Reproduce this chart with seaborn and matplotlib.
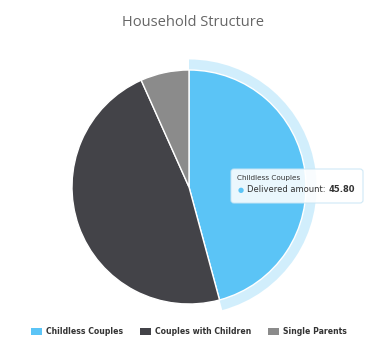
import matplotlib
matplotlib.use("Agg")
import matplotlib.pyplot as plt
import seaborn as sns
from matplotlib.patches import Patch, FancyBboxPatch

categories = ["Childless Couples", "Couples with Children", "Single Parents"]
values = [45.80, 47.50, 6.70]
colors = ["#5BC4F6", "#434348", "#8B8B8B"]
title = "Household Structure"
series_name = "Delivered amount"
hover_index = 0

sns.set_theme(style="white")
plt.rcParams["font.family"] = ["Open Sans", "DejaVu Sans"]

fig = plt.figure(figsize=(3.86, 3.47), dpi=100)
W, H = 386, 347
cx, cy, r = 189, 187, 117
ax = fig.add_axes([(cx - r) / W, (H - cy - r) / H, 2 * r / W, 2 * r / H])

# halo for hovered slice
halo_colors = [colors[i] if i == hover_index else "none" for i in range(len(values))]
halo, _ = ax.pie(values, colors=halo_colors, startangle=90, counterclock=False,
                 radius=1.09, wedgeprops=dict(width=0.1, linewidth=0, alpha=0.28))
wedges, _ = ax.pie(values, colors=colors, startangle=90, counterclock=False,
                   radius=1.0, wedgeprops=dict(edgecolor="white", linewidth=1))
for w in list(halo) + list(wedges):
    w.set_clip_on(False)
ax.set_xlim(-1, 1)
ax.set_ylim(-1, 1)
ax.set_aspect("equal")
ax.axis("off")

fig.text(0.5, 1 - 22 / H, title, ha="center", va="center", fontsize=10.5,
         color="#666666")

# tooltip box
def fx(px):
    return px / W

def fy(py):
    return 1 - py / H

box = FancyBboxPatch((fx(231), fy(203)), fx(363) - fx(231), fy(169) - fy(203),
                     boxstyle="round,pad=0,rounding_size=0.008",
                     transform=fig.transFigure, facecolor="white", alpha=0.88,
                     edgecolor="#C9E6F5", linewidth=0.8, zorder=5)
fig.add_artist(box)
fig.text(fx(237), fy(178), categories[hover_index], fontsize=5.2, color="#333333",
         ha="left", va="center", family=["DejaVu Sans"], zorder=6)
fig.text(fx(238), fy(190), "\u25cf", fontsize=5.0, color=colors[hover_index],
         ha="left", va="center", family=["DejaVu Sans"], zorder=6)
lab = fig.text(fx(247), fy(190), f"{series_name}: ", fontsize=6.0, color="#333333",
               ha="left", va="center", family=["DejaVu Sans"], zorder=6)
fig.canvas.draw()
ext = lab.get_window_extent(fig.canvas.get_renderer())
fig.text(ext.x1 / fig.bbox.width, fy(190), f"{values[hover_index]:.2f}", fontsize=6.0,
         color="#333333", ha="left", va="center", fontweight="bold",
         family=["DejaVu Sans"], zorder=6)

handles = [Patch(facecolor=c, edgecolor="none") for c in colors]
leg = fig.legend(handles, categories, loc="center", bbox_to_anchor=(fx(189), fy(332)),
                 ncol=3, frameon=False, handlelength=1.4,
                 handleheight=0.95, handletextpad=0.5, columnspacing=2.2,
                 prop=dict(family="DejaVu Sans", weight="bold", size=5.6))
for t in leg.get_texts():
    t.set_color("#333333")

fig.savefig("out.png", dpi=100)
